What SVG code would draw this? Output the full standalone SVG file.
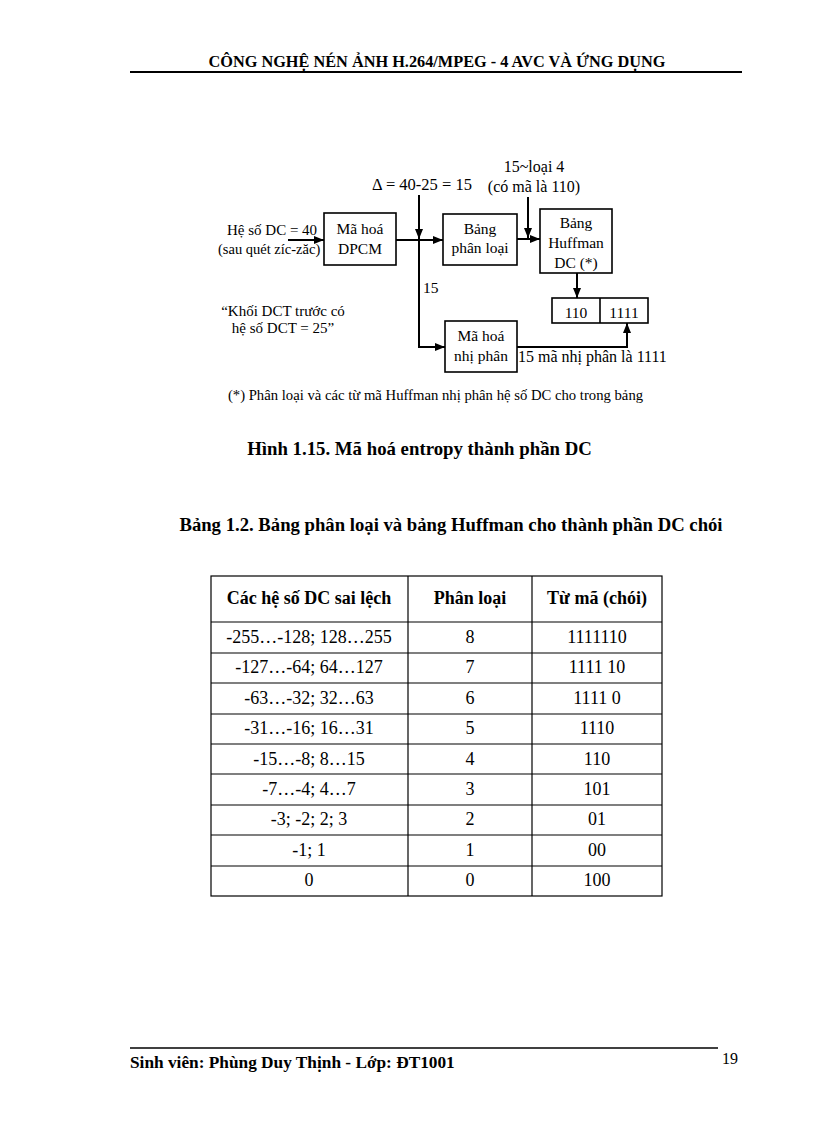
<svg xmlns="http://www.w3.org/2000/svg" width="816" height="1123" viewBox="0 0 816 1123">
<style>
text{font-family:"Liberation Serif","Times New Roman",serif;fill:#000}
.d{font-size:15.5px}
.c{text-anchor:middle}
.b{font-weight:bold}
.box{fill:#fff;stroke:#000;stroke-width:1.6}
.ln{fill:none;stroke:#000;stroke-width:2}
.tl{stroke:#000;stroke-width:1.2;fill:none}
.t{font-size:18px}
</style>
<defs>
<marker id="ah" markerWidth="10" markerHeight="8" refX="10" refY="4" orient="auto" markerUnits="userSpaceOnUse">
<path d="M0,0 L10,4 L0,8 Z" fill="#000"/>
</marker>
</defs>
<rect width="816" height="1123" fill="#fff"/>

<!-- page header -->
<g id="header">
<text x="437" y="67" class="c b" font-size="16.3">CÔNG NGHỆ NÉN ẢNH H.264/MPEG - 4 AVC VÀ ỨNG DỤNG</text>
<line x1="130" y1="72" x2="742" y2="72" stroke="#000" stroke-width="2"/>
</g>

<!-- connectors -->
<g id="connectors">
<line class="ln" x1="288" y1="240" x2="324" y2="240" marker-end="url(#ah)"/>
<line class="ln" x1="396" y1="240" x2="443" y2="240" marker-end="url(#ah)"/>
<line class="ln" x1="419" y1="195" x2="419" y2="239" marker-end="url(#ah)"/>
<polyline class="ln" points="419,240 419,347 445,347" marker-end="url(#ah)"/>
<line class="ln" x1="517" y1="239" x2="540" y2="239" marker-end="url(#ah)"/>
<line class="ln" x1="528" y1="197" x2="528" y2="238" marker-end="url(#ah)"/>
<line class="ln" x1="577" y1="273" x2="577" y2="298" marker-end="url(#ah)"/>
<polyline class="ln" points="517,347 627,347 627,323" marker-end="url(#ah)"/>
</g>

<!-- diagram nodes -->
<g id="dpcm">
<rect class="box" x="324" y="213" width="72" height="52"/>
<text class="d c" x="360" y="234">Mã hoá</text>
<text class="d c" x="360" y="254">DPCM</text>
</g>
<g id="phanloai">
<rect class="box" x="443" y="214" width="74" height="51"/>
<text class="d c" x="480" y="234">Bảng</text>
<text class="d c" x="480" y="253">phân loại</text>
</g>
<g id="huffman">
<rect class="box" x="540" y="209" width="72" height="64"/>
<text class="d c" x="576" y="228">Bảng</text>
<text class="d c" x="576" y="248">Huffman</text>
<text class="d c" x="576" y="268">DC (*)</text>
</g>
<g id="code">
<rect class="box" x="552" y="298" width="96" height="25"/>
<line x1="600" y1="298" x2="600" y2="323" stroke="#000" stroke-width="1.6"/>
<text class="d c" x="576" y="318">110</text>
<text class="d c" x="624" y="318">1111</text>
</g>
<g id="nhiphan">
<rect class="box" x="445" y="321" width="72" height="51"/>
<text class="d c" x="481" y="341">Mã hoá</text>
<text class="d c" x="481" y="361">nhị phân</text>
</g>

<!-- labels -->
<g id="labels">
<text x="227" y="235" font-size="15">Hệ số DC = 40</text>
<text x="218" y="254" font-size="14.5">(sau quét zíc-zăc)</text>
<text class="c" x="422" y="190" font-size="16.5">Δ = 40-25 = 15</text>
<text class="c" x="534" y="172" font-size="16">15~loại 4</text>
<text class="c" x="534" y="192" font-size="16">(có mã là 110)</text>
<text class="d" x="423" y="293">15</text>
<text class="c" x="283" y="316" font-size="15">“Khối DCT trước có</text>
<text class="c" x="283" y="333" font-size="15">hệ số DCT = 25”</text>
<text x="518" y="362" font-size="16">15 mã nhị phân là 1111</text>
<text x="435.5" y="400" class="c" font-size="14.7">(*) Phân loại và các từ mã Huffman nhị phân hệ số DC cho trong bảng</text>
</g>

<!-- captions -->
<g id="captions">
<text x="419.5" y="455" class="c b" font-size="18.8">Hình 1.15. Mã hoá entropy thành phần DC</text>
<text x="451" y="531" class="c b" font-size="18.7">Bảng 1.2. Bảng phân loại và bảng Huffman cho thành phần DC chói</text>
</g>

<!-- table -->
<g id="table">
<rect x="211" y="576" width="451" height="320" class="tl"/>
<line class="tl" x1="408" y1="576" x2="408" y2="896"/>
<line class="tl" x1="532" y1="576" x2="532" y2="896"/>
<line class="tl" x1="211" y1="622" x2="662" y2="622"/>
<line class="tl" x1="211" y1="653" x2="662" y2="653"/>
<line class="tl" x1="211" y1="683" x2="662" y2="683"/>
<line class="tl" x1="211" y1="714" x2="662" y2="714"/>
<line class="tl" x1="211" y1="744" x2="662" y2="744"/>
<line class="tl" x1="211" y1="774" x2="662" y2="774"/>
<line class="tl" x1="211" y1="805" x2="662" y2="805"/>
<line class="tl" x1="211" y1="835" x2="662" y2="835"/>
<line class="tl" x1="211" y1="866" x2="662" y2="866"/>
<text class="t b c" x="309" y="604">Các hệ số DC sai lệch</text>
<text class="t b c" x="470" y="604">Phân loại</text>
<text class="t b c" x="597" y="604">Từ mã (chói)</text>
<text class="t c" x="309" y="643">-255…-128; 128…255</text><text class="t c" x="470" y="643">8</text><text class="t c" x="597" y="643">1111110</text>
<text class="t c" x="309" y="673">-127…-64; 64…127</text><text class="t c" x="470" y="673">7</text><text class="t c" x="597" y="673">1111 10</text>
<text class="t c" x="309" y="704">-63…-32; 32…63</text><text class="t c" x="470" y="704">6</text><text class="t c" x="597" y="704">1111 0</text>
<text class="t c" x="309" y="734">-31…-16; 16…31</text><text class="t c" x="470" y="734">5</text><text class="t c" x="597" y="734">1110</text>
<text class="t c" x="309" y="765">-15…-8; 8…15</text><text class="t c" x="470" y="765">4</text><text class="t c" x="597" y="765">110</text>
<text class="t c" x="309" y="795">-7…-4; 4…7</text><text class="t c" x="470" y="795">3</text><text class="t c" x="597" y="795">101</text>
<text class="t c" x="309" y="825">-3; -2; 2; 3</text><text class="t c" x="470" y="825">2</text><text class="t c" x="597" y="825">01</text>
<text class="t c" x="309" y="856">-1; 1</text><text class="t c" x="470" y="856">1</text><text class="t c" x="597" y="856">00</text>
<text class="t c" x="309" y="886">0</text><text class="t c" x="470" y="886">0</text><text class="t c" x="597" y="886">100</text>
</g>

<!-- footer -->
<g id="footer">
<line x1="130" y1="1048" x2="718" y2="1048" stroke="#000" stroke-width="1.5"/>
<text x="130" y="1068" class="b" font-size="17.3">Sinh viên: Phùng Duy Thịnh - Lớp: ĐT1001</text>
<text x="722" y="1064" font-size="16">19</text>
</g>
</svg>
